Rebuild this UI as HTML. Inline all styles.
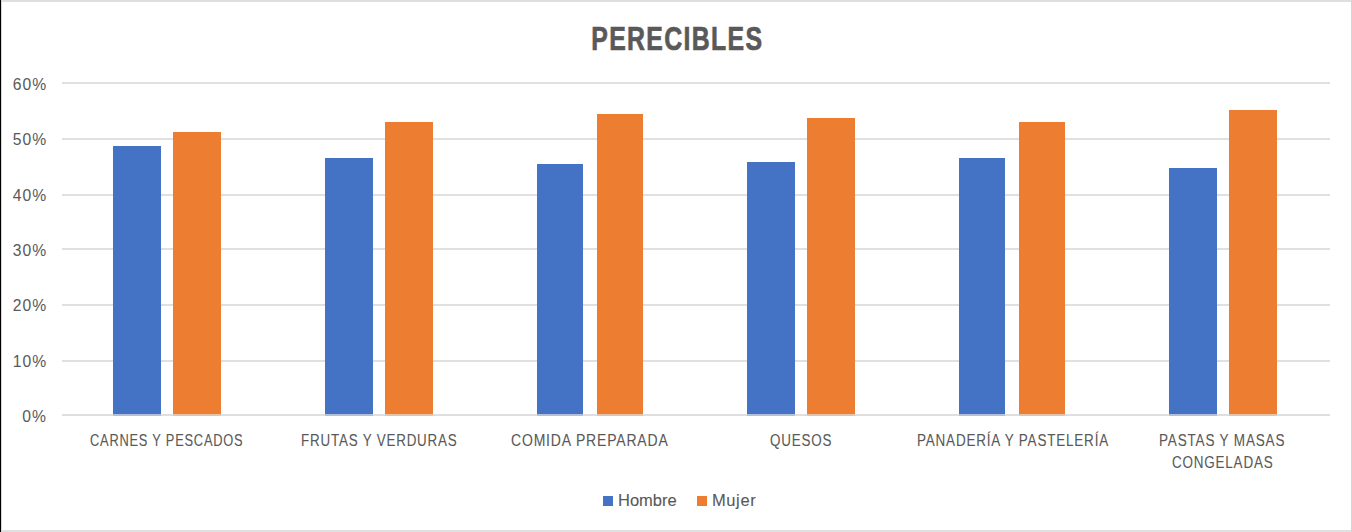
<!DOCTYPE html>
<html><head><meta charset="utf-8"><style>
html,body{margin:0;padding:0;}
body{width:1352px;height:532px;position:relative;overflow:hidden;background:#fff;font-family:"Liberation Sans",sans-serif;color:#595959;}
.a{position:absolute;}
.g{position:absolute;left:62px;width:1268px;height:2px;background:#e0e0e0;}
.b{position:absolute;background:#4472c4;}
.o{position:absolute;background:#ed7d31;}
.t{-webkit-text-stroke:0.1px #595959;}
.yl{position:absolute;right:1306px;font-size:16.5px;line-height:20px;white-space:nowrap;letter-spacing:1px;margin-right:-1px;transform:scaleX(0.95);transform-origin:100% 50%;}
.cl{position:absolute;font-size:16.5px;line-height:22px;white-space:nowrap;transform-origin:0 50%;letter-spacing:1.0px;}
</style></head><body>

<div class="a" style="left:0;top:0;width:1352px;height:2px;background:#dfdfdf"></div>
<div class="a" style="left:0;top:530px;width:1352px;height:2px;background:#e0e0e0"></div>
<div class="a" style="left:1351px;top:0;width:1px;height:532px;background:#d4d4d4"></div>
<div class="a" style="left:1px;top:0;width:1px;height:532px;background:#d8d8d8"></div>
<div class="a" style="left:0;top:0;width:1px;height:532px;background:#000"></div>
<div class="a" style="left:476px;top:20.5px;width:400px;text-align:center;font-size:33.6px;font-weight:bold;line-height:36px;white-space:nowrap"><span style="display:inline-block;letter-spacing:1.8px;margin-right:-1.8px;transform:scaleX(0.74);-webkit-text-stroke:0.7px #595959">PERECIBLES</span></div>
<div class="g" style="top:82px"></div>
<div class="g" style="top:138px"></div>
<div class="g" style="top:194px"></div>
<div class="g" style="top:248px"></div>
<div class="g" style="top:304px"></div>
<div class="g" style="top:360px"></div>
<div class="g" style="top:414px"></div>
<div class="b" style="left:113px;top:146px;width:48px;height:270px"></div>
<div class="o" style="left:173px;top:132px;width:48px;height:284px"></div>
<div class="b" style="left:325px;top:158px;width:48px;height:258px"></div>
<div class="o" style="left:385px;top:122px;width:48px;height:294px"></div>
<div class="b" style="left:537px;top:164px;width:46px;height:252px"></div>
<div class="o" style="left:597px;top:114px;width:46px;height:302px"></div>
<div class="b" style="left:747px;top:162px;width:48px;height:254px"></div>
<div class="o" style="left:807px;top:118px;width:48px;height:298px"></div>
<div class="b" style="left:959px;top:158px;width:46px;height:258px"></div>
<div class="o" style="left:1019px;top:122px;width:46px;height:294px"></div>
<div class="b" style="left:1169px;top:168px;width:48px;height:248px"></div>
<div class="o" style="left:1229px;top:110px;width:48px;height:306px"></div>
<div class="g" style="top:414px;background:rgba(222,222,222,0.72)"></div>
<div class="yl" style="top:74.00px">60%</div>
<div class="yl" style="top:129.33px">50%</div>
<div class="yl" style="top:184.67px">40%</div>
<div class="yl" style="top:240.00px">30%</div>
<div class="yl" style="top:295.33px">20%</div>
<div class="yl" style="top:350.66px">10%</div>
<div class="yl" style="top:406.00px">0%</div>
<div class="cl t" style="left:90.32px;top:429px;transform:scaleX(0.7787)">CARNES Y PESCADOS</div>
<div class="cl t" style="left:300.90px;top:429px;transform:scaleX(0.8108)">FRUTAS Y VERDURAS</div>
<div class="cl t" style="left:511.19px;top:429px;transform:scaleX(0.8462)">COMIDA PREPARADA</div>
<div class="cl t" style="left:770.19px;top:429px;transform:scaleX(0.8123)">QUESOS</div>
<div class="cl t" style="left:916.53px;top:429px;transform:scaleX(0.8157)">PANADERÍA Y PASTELERÍA</div>
<div class="cl t" style="left:1159.12px;top:429px;transform:scaleX(0.8198)">PASTAS Y MASAS</div>
<div class="cl t" style="left:1172.28px;top:451px;transform:scaleX(0.8141)">CONGELADAS</div>
<div class="a" style="left:603px;top:496px;width:10px;height:10px;background:#4472c4"></div>
<div class="a" style="left:697px;top:496px;width:10px;height:10px;background:#ed7d31"></div>
<div class="a t" style="left:618px;top:490px;font-size:16.5px;line-height:20px;white-space:nowrap">Hombre</div>
<div class="a t" style="left:712px;top:490px;font-size:16.5px;line-height:20px;white-space:nowrap;letter-spacing:0.6px">Mujer</div>
</body></html>
